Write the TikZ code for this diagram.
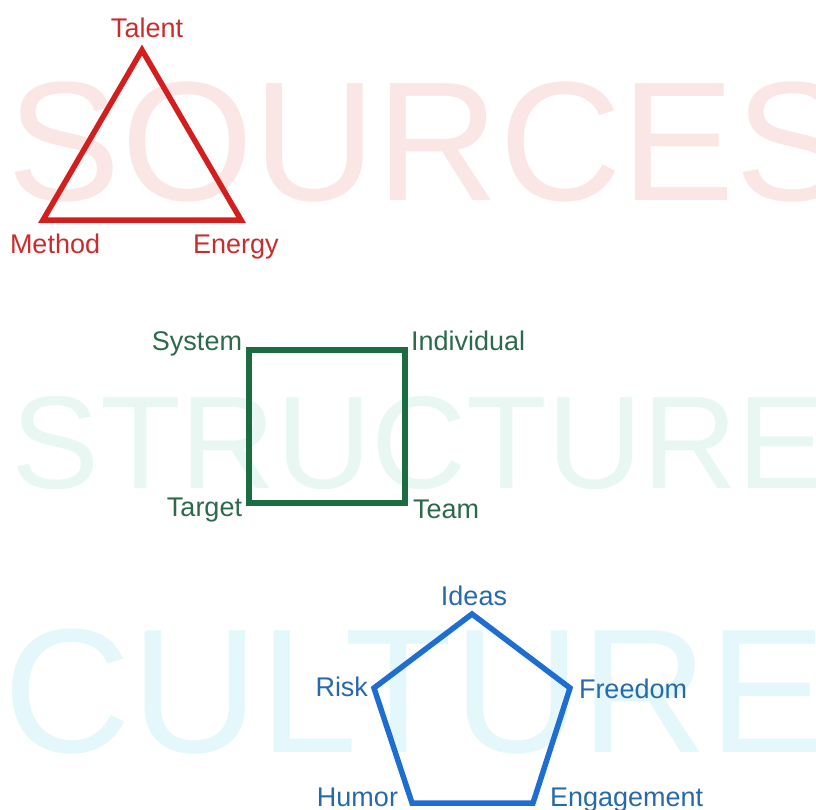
\documentclass[tikz,border=0pt]{standalone}
\usepackage{fontspec}
\setmainfont{Liberation Sans}
\definecolor{srcbg}{RGB}{251,230,230}
\definecolor{strbg}{RGB}{232,247,242}
\definecolor{culbg}{RGB}{228,247,251}
\definecolor{srcline}{RGB}{212,30,30}
\definecolor{srclab}{RGB}{200,45,45}
\definecolor{strline}{RGB}{28,108,66}
\definecolor{strlab}{RGB}{45,105,75}
\definecolor{culline}{RGB}{30,110,210}
\definecolor{cullab}{RGB}{40,105,170}
\tikzset{
  bgword/.style={inner sep=0pt, outer sep=0pt, anchor=base west, font=\fontsize{#1}{#1}\selectfont},
  lab/.style={inner sep=0pt, outer sep=0pt, font=\fontsize{27}{27}\selectfont},
  poly/.style={line width=5.5pt, line join=miter},
}
\begin{document}
\begin{tikzpicture}[x=1pt,y=-1pt]
\useasboundingbox (0,0) rectangle (816,809);
\begin{scope}
\clip (0,0) rectangle (816,809);
% background words
\node[bgword=170, text=srcbg] (wsrc) at (8,200) {SOURCES};
\node[bgword=132, text=strbg] (wstr) at (12,488) {STRUCTURE};
\node[bgword=177, text=culbg] (wcul) at (4,752) {CULTURE};
\end{scope}
% triangle
\coordinate (tT) at (142,50);
\coordinate (tM) at (43,220);
\coordinate (tE) at (241,220);
\draw[poly, srcline] (tT) -- (tE) -- (tM) -- cycle;
\node[lab, text=srclab, anchor=base] (lTalent) at (147,37) {Talent};
\node[lab, text=srclab, anchor=base west] (lMethod) at (10,253) {Method};
\node[lab, text=srclab, anchor=base west] (lEnergy) at (193,253) {Energy};
% square
\coordinate (sS) at (249,350);
\coordinate (sI) at (405,350);
\coordinate (sTe) at (405,503);
\coordinate (sTa) at (249,503);
\draw[poly, strline] (sS) -- (sI) -- (sTe) -- (sTa) -- cycle;
\node[lab, text=strlab, anchor=base east] (lSystem) at (242,350) {System};
\node[lab, text=strlab, anchor=base west] (lIndividual) at (411,350) {Individual};
\node[lab, text=strlab, anchor=base east] (lTarget) at (242,516) {Target};
\node[lab, text=strlab, anchor=base west] (lTeam) at (413,518) {Team};
% pentagon
\coordinate (pI) at (472,614);
\coordinate (pF) at (570,688);
\coordinate (pE) at (533,803);
\coordinate (pH) at (412,803);
\coordinate (pR) at (374,688);
\draw[poly, culline] (pI) -- (pF) -- (pE) -- (pH) -- (pR) -- cycle;
\node[lab, text=cullab, anchor=base] (lIdeas) at (474,605) {Ideas};
\node[lab, text=cullab, anchor=base east] (lRisk) at (368,696) {Risk};
\node[lab, text=cullab, anchor=base west] (lFreedom) at (579,698) {Freedom};
\node[lab, text=cullab, anchor=base east] (lHumor) at (398,806) {Humor};
\node[lab, text=cullab, anchor=base west] (lEngagement) at (550,806) {Engagement};
\end{tikzpicture}
\end{document}
